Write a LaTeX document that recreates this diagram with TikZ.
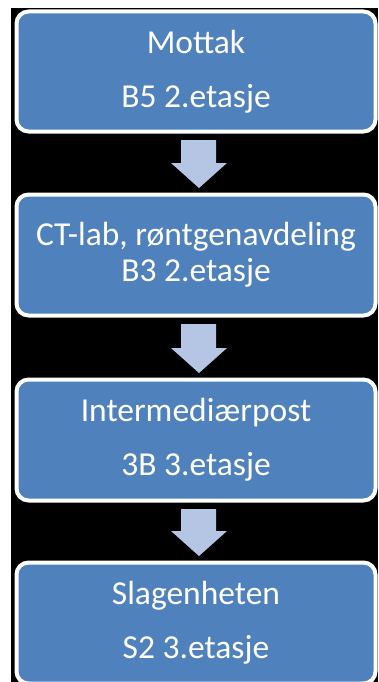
\documentclass[tikz,border=0pt]{standalone}
\usepackage{fontspec}
\setmainfont{Carlito}
\usetikzlibrary{calc}
\definecolor{boxblue}{HTML}{4F81BD}
\definecolor{arrowblue}{HTML}{B4C6E4}
\tikzset{
  stagebox/.style={draw=white, line width=4pt, fill=boxblue, rounded corners=12pt,
    minimum width=359pt, inner sep=0pt, align=center, text=white,
    font=\fontsize{33.5}{54}\selectfont},
  arrowfill/.style={fill=arrowblue}
}
% block arrow pointing down from one stage to the next
\newcommand\stagearrow[2]{%
  \fill[arrowfill] let \p1=(#1.south), \p2=(#2.north) in
    (\x1-15pt,\y1-6.5pt) -- (\x1+20pt,\y1-6.5pt) -- (\x1+20pt,\y2+29.5pt)
    -- (\x1+31pt,\y2+29.5pt) -- (\x1+3pt,\y2+4.5pt) -- (\x1-25pt,\y2+29.5pt)
    -- (\x1-15pt,\y2+29.5pt) -- cycle;}
\begin{document}
\begin{tikzpicture}[x=1pt, y=-1pt]
  \useasboundingbox (0,0) rectangle (378,682);
  \clip (0,0) rectangle (378,682);
  \fill[white] (0,0) rectangle (378,682);
  \fill[black] (11,8) rectangle (378,682);

  \node[stagebox, minimum height=120pt] (b1) at (196,71.5) {Mottak\\B5 2.etasje};
  \node[stagebox, minimum height=121pt, font=\fontsize{33.5}{36}\selectfont] (b2) at (196,255) {CT-lab, røntgenavdeling\\B3 2.etasje};
  \node[stagebox, minimum height=121pt] (b3) at (196,440) {Intermediærpost\\3B 3.etasje};
  \node[stagebox, minimum height=121pt] (b4) at (196,623) {Slagenheten\\S2 3.etasje};

  \stagearrow{b1}{b2}
  \stagearrow{b2}{b3}
  \stagearrow{b3}{b4}
\end{tikzpicture}
\end{document}
